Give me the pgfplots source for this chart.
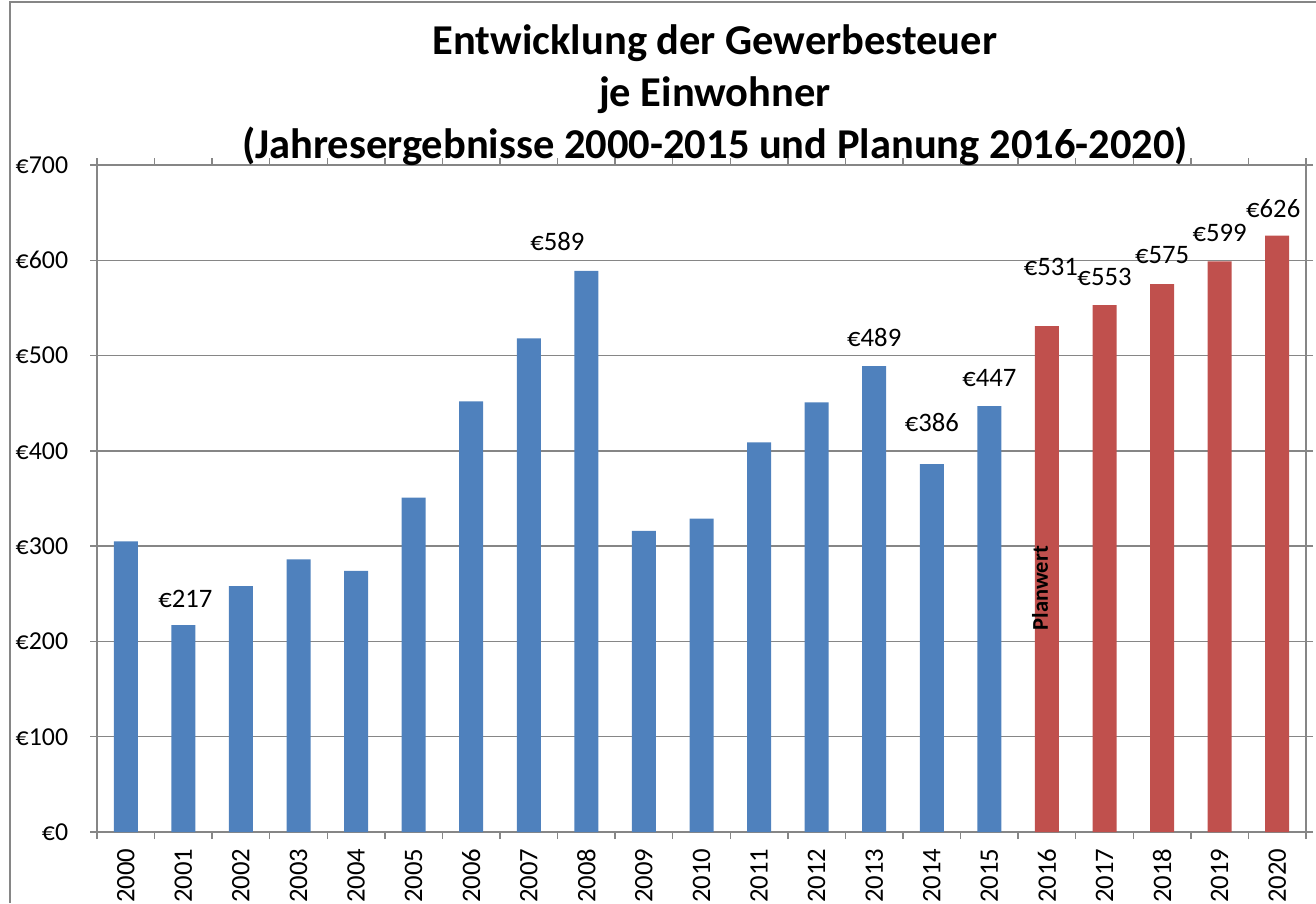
\documentclass[border=0pt]{standalone}
\usepackage{pgfplots}
\pgfplotsset{compat=1.18}
\usepackage{pgfplotstable}
\usepackage{fontspec}
\setmainfont{Carlito}

\definecolor{istblau}{RGB}{79,129,189}
\definecolor{planrot}{RGB}{192,80,77}
\definecolor{rahmengrau}{RGB}{134,134,134}

% Jahresergebnisse 2000-2015
\pgfplotstableread{
x y
0 305
1 217
2 258
3 286
4 274
5 351
6 452
7 518
8 589
9 316
10 329
11 409
12 451
13 489
14 386
15 447
}\ist

% Planung 2016-2020
\pgfplotstableread{
x y
16 531
17 553
18 575
19 599
20 626
}\plan

% Beschriftete Werte, mit Versatz (pt)
\pgfplotstableread{
x y dx dy lab
1 217 1.2 15.6 €217
8 589 -17.4 17.4 €589
13 489 0 17.4 €489
14 386 0 25.2 €386
15 447 0 16.8 €447
16 531 2.4 35.4 €531
17 553 0 16.8 €553
18 575 0 17.4 €575
19 599 0 16.8 €599
20 626 -2.4 16.2 €626
}\beschriftung

\begin{document}
\begin{tikzpicture}
  \useasboundingbox (0,0) rectangle (789.6pt,541.8pt);
  % Rahmen des Diagramms
  \draw[rahmengrau, line width=0.8pt] (6pt,0) -- (6pt,540.6pt) -- (789.6pt,540.6pt);
  \begin{axis}[
      at={(58.2pt,42.6pt)}, anchor=south west,
      scale only axis,
      width=725.4pt, height=400.2pt,
      ybar, bar width=14.4pt, bar shift=0pt,
      xmin=-0.5, xmax=20.5,
      ymin=0, ymax=700,
      ytick={0,100,...,700},
      yticklabel={€\pgfmathprintnumber{\tick}},
      xtick={0,...,20},
      xticklabels={2000,2001,2002,2003,2004,2005,2006,2007,2008,2009,2010,2011,2012,2013,2014,2015,2016,2017,2018,2019,2020},
      minor xtick={-0.5,0.5,...,20.5},
      major x tick style={draw=none},
      minor x tick style={rahmengrau, line width=0.8pt},
      major tick length=4.2pt, minor tick length=4.2pt,
      tick align=outside,
      ytick style={rahmengrau, line width=0.8pt},
      ymajorgrids,
      grid style={rahmengrau, line width=0.8pt},
      axis line style={rahmengrau, line width=0.8pt},
      /pgf/number format/assume math mode=true,
      yticklabel style={anchor=east, xshift=-9.6pt, font=\fontsize{15.5}{17}\selectfont},
      xticklabel style={rotate=90, anchor=east, outer xsep=2.5pt, font=\fontsize{16}{18}\selectfont},
      clip=false,
    ]
    \addplot[fill=istblau, draw=none] table[x=x, y=y] {\ist};
    \addplot[fill=planrot, draw=none] table[x=x, y=y] {\plan};
    % Datenbeschriftungen
    \addplot[only marks, mark=none,
      point meta=explicit symbolic,
      visualization depends on={\thisrow{dx} \as \versx},
      visualization depends on={\thisrow{dy} \as \versy},
      nodes near coords,
      nodes near coords style={anchor=center, xshift=\versx pt, yshift=\versy pt,
        font=\fontsize{16}{18}\selectfont, text=black},
    ] table[x=x, y=y, meta=lab] {\beschriftung};
    \node[rotate=90, font=\bfseries\fontsize{13.5}{15}\selectfont] at (axis cs:15.88,256) {Planwert};
  \end{axis}
  \node[align=center, font=\bfseries\fontsize{25.5}{31.2}\selectfont] at (429pt,484.5pt)
    {Entwicklung der Gewerbesteuer\\je Einwohner\\(Jahresergebnisse 2000-2015 und Planung 2016-2020)};
\end{tikzpicture}
\end{document}
